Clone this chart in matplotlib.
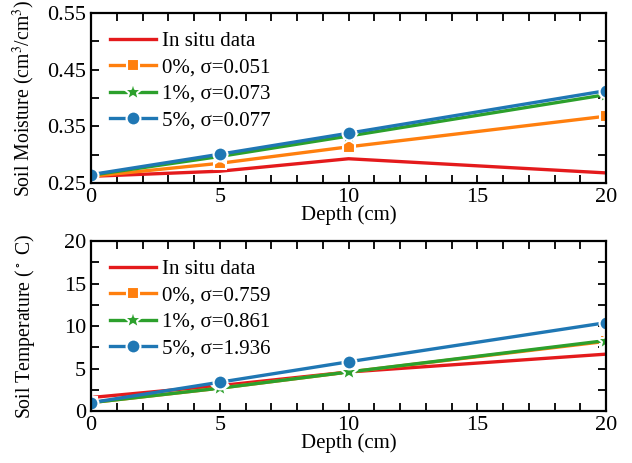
import numpy as np
import matplotlib.pyplot as plt
from matplotlib.ticker import MultipleLocator

plt.rcParams['font.family'] = ['Liberation Serif', 'DejaVu Serif']
plt.rcParams['mathtext.fontset'] = 'stix'

depth = [0, 5, 10, 20]

# soil moisture (cm3/cm3)
sm_insitu = [0.262, 0.271, 0.293, 0.268]
sm_0 = [0.262, 0.285, 0.314, 0.368]
sm_1 = [0.264, 0.297, 0.333, 0.406]
sm_5 = [0.265, 0.301, 0.338, 0.413]
sm_labels = ['In situ data', '0%, σ=0.051', '1%, σ=0.073', '5%, σ=0.077']

# soil temperature (C)
st_insitu = [1.6, 3.0, 4.6, 6.7]
st_0 = [1.0, 2.7, 4.6, 8.2]
st_1 = [1.0, 2.7, 4.6, 8.3]
st_5 = [1.0, 3.4, 5.8, 10.4]
st_labels = ['In situ data', '0%, σ=0.759', '1%, σ=0.861', '5%, σ=1.936']

colors = ['#e41a1c', '#ff7f0e', '#2ca02c', '#1f77b4']
markers = [None, 's', '*', 'o']
msizes = [0, 9, 14, 10]


def draw(ax, series, labels):
    for y, lab, c, m, ms in zip(series, labels, colors, markers, msizes):
        ax.plot(depth, y, color=c, lw=2.4, marker=m, ms=ms, mfc=c,
                mec='white', mew=1.5, label=lab)
    ax.set_xlim(0, 20)
    ax.xaxis.set_major_locator(MultipleLocator(5))
    ax.xaxis.set_minor_locator(MultipleLocator(1))
    ax.tick_params(which='both', direction='in', top=True, right=True,
                   labelsize=16, width=1.3, length=6)
    for s in ax.spines.values():
        s.set_linewidth(1.6)
    ax.set_xlabel('Depth (cm)', fontsize=15, labelpad=-1)
    ax.legend(loc='upper left', frameon=False, fontsize=15,
              handlelength=2.2, labelspacing=0.32, borderaxespad=0.5,
              handletextpad=0.3)


fig, (ax1, ax2) = plt.subplots(2, 1, figsize=(6.32, 4.63), dpi=100)
plt.subplots_adjust(left=0.144, right=0.959, top=0.972, bottom=0.112,
                    hspace=0.34)

draw(ax1, [sm_insitu, sm_0, sm_1, sm_5], sm_labels)
ax1.set_ylim(0.25, 0.55)
ax1.set_yticks([0.25, 0.35, 0.45, 0.55])
ax1.set_yticklabels(['0.25', '0.35', '0.45', '0.55'])
ax1.yaxis.set_minor_locator(MultipleLocator(0.05))
ax1.set_ylabel('Soil Moisture (cm$^3$/cm$^3$)', fontsize=14.2)

draw(ax2, [st_insitu, st_0, st_1, st_5], st_labels)
ax2.set_ylim(0, 20)
ax2.yaxis.set_major_locator(MultipleLocator(5))
ax2.yaxis.set_minor_locator(MultipleLocator(2.5))
ax2.set_ylabel('Soil Temperature ($^\\circ$ C)', fontsize=14.2)

for ax in (ax1, ax2):
    ax.yaxis.set_label_coords(-0.105, 0.5)

fig.savefig('out.png', dpi=100)
